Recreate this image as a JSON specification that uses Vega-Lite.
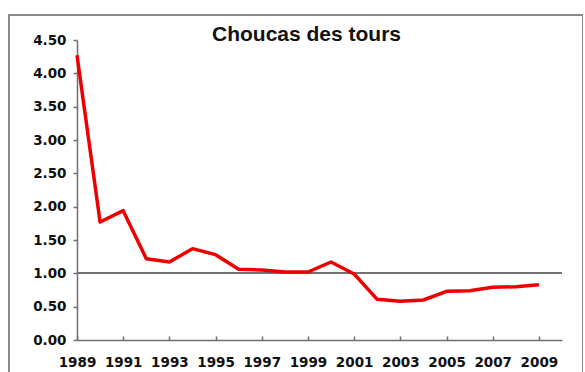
{
  "$schema": "https://vega.github.io/schema/vega-lite/v6.json",
  "autosize": {"type": "none"},
  "padding": {"left": 9, "top": 15, "right": 0, "bottom": 0},
  "width": 574,
  "height": 367,
  "background": "white",
  "config": {
    "view": {"stroke": "#8a8a8a", "strokeWidth": 2},
    "axis": {"grid": false, "domainColor": "#707070", "tickColor": "#707070", "domainWidth": 1.5, "tickWidth": 1.5, "labelColor": "#111111", "labelFont": "DejaVu Sans", "labelFontWeight": "bold", "labelFontSize": 13.5, "title": null}
  },
  "title": {
    "text": "Choucas des tours",
    "font": "Liberation Sans",
    "fontSize": 21,
    "fontWeight": "bold",
    "color": "#111111",
    "anchor": "middle",
    "frame": "group",
    "orient": "top",
    "offset": -21,
    "baseline": "alphabetic",
    "dx": 10.5,
    "dy": 26
  },
  "data": {
    "values": [
      {"year": 1989, "value": 4.27},
      {"year": 1990, "value": 1.77},
      {"year": 1991, "value": 1.94},
      {"year": 1992, "value": 1.22},
      {"year": 1993, "value": 1.17},
      {"year": 1994, "value": 1.37},
      {"year": 1995, "value": 1.28},
      {"year": 1996, "value": 1.06},
      {"year": 1997, "value": 1.05},
      {"year": 1998, "value": 1.02},
      {"year": 1999, "value": 1.02},
      {"year": 2000, "value": 1.17},
      {"year": 2001, "value": 0.99},
      {"year": 2002, "value": 0.61},
      {"year": 2003, "value": 0.58},
      {"year": 2004, "value": 0.60},
      {"year": 2005, "value": 0.73},
      {"year": 2006, "value": 0.74},
      {"year": 2007, "value": 0.79},
      {"year": 2008, "value": 0.80},
      {"year": 2009, "value": 0.83}
    ]
  },
  "layer": [
    {
      "mark": {"type": "rule", "color": "#707070", "strokeWidth": 1.5},
      "encoding": {
        "y": {"datum": 1, "type": "quantitative"},
        "x": {"datum": 1989, "type": "quantitative"},
        "x2": {"datum": 2010}
      }
    },
    {
      "mark": {"type": "line", "color": "#EE0000", "strokeWidth": 3.5, "strokeJoin": "round"},
      "encoding": {
        "x": {
          "field": "year",
          "type": "quantitative",
          "scale": {"domain": [1989, 2010], "range": [68, 553], "nice": false, "zero": false},
          "axis": {
            "orient": "bottom",
            "offset": -42,
            "values": [1989, 1991, 1993, 1995, 1997, 1999, 2001, 2003, 2005, 2007, 2009],
            "format": "d",
            "tickSize": -4,
            "labelPadding": 19,
            "labelFlush": false,
            "labelOverlap": false
          }
        },
        "y": {
          "field": "value",
          "type": "quantitative",
          "scale": {"domain": [0, 4.5], "range": [325, 25], "nice": false},
          "axis": {
            "orient": "left",
            "offset": -68,
            "values": [0, 0.5, 1, 1.5, 2, 2.5, 3, 3.5, 4, 4.5],
            "format": ".2f",
            "tickSize": 4,
            "labelPadding": 7,
            "labelOverlap": false
          }
        }
      }
    }
  ]
}
